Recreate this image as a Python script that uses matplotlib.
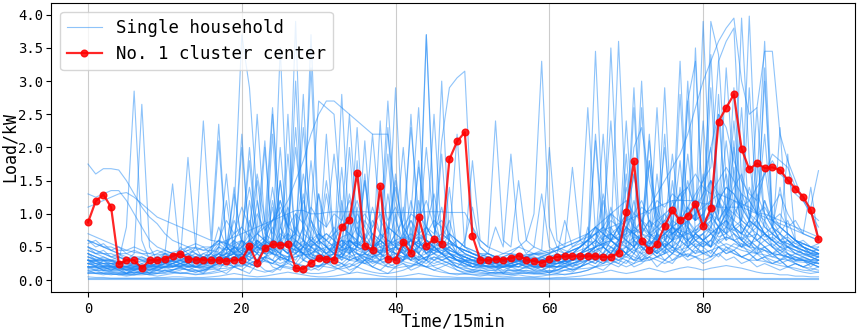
import numpy as np
import matplotlib
matplotlib.use("Agg")
import matplotlib.pyplot as plt

plt.rcParams['font.family'] = ['DejaVu Sans Mono']

# time steps (15 min each)
steps = list(range(96))

# No. 1 cluster center
center = [0.87, 1.19, 1.29, 1.10, 0.24, 0.30, 0.30, 0.18, 0.30, 0.30, 0.32, 0.37, 0.40, 0.32, 0.31, 0.31,
          0.30, 0.30, 0.29, 0.30, 0.31, 0.51, 0.26, 0.48, 0.54, 0.53, 0.54, 0.18, 0.17, 0.26, 0.33, 0.32,
          0.31, 0.80, 0.91, 1.62, 0.52, 0.45, 1.42, 0.32, 0.31, 0.58, 0.41, 0.95, 0.52, 0.62, 0.55, 1.82,
          2.09, 2.23, 0.67, 0.31, 0.30, 0.32, 0.31, 0.33, 0.37, 0.31, 0.29, 0.26, 0.32, 0.35, 0.36, 0.36,
          0.36, 0.36, 0.36, 0.35, 0.35, 0.41, 1.03, 1.79, 0.59, 0.46, 0.54, 0.82, 1.05, 0.90, 0.97, 1.15,
          0.81, 1.08, 2.39, 2.60, 2.80, 1.98, 1.67, 1.76, 1.69, 1.70, 1.66, 1.51, 1.38, 1.26, 1.05, 0.62]

# single households (estimated from the traces)
h01 = [1.75, 1.6, 1.68, 1.68, 1.66, 1.5, 1.3, 1.1, 0.95, 0.85, 0.7, 0.6, 0.55, 0.5, 0.48, 0.45,
       0.45, 0.42, 0.4, 0.4, 0.38, 0.4, 0.45, 0.5, 0.6, 0.55, 0.5, 0.45, 0.4, 0.38, 0.35, 0.35,
       0.4, 0.5, 0.9, 1.2, 0.8, 0.6, 0.5, 0.45, 0.4, 0.42, 0.5, 0.6, 0.7, 0.65, 0.6, 0.55,
       0.5, 0.45, 0.4, 0.35, 0.3, 0.3, 0.28, 0.28, 0.3, 0.3, 0.28, 0.27, 0.26, 0.25, 0.25, 0.26,
       0.28, 0.3, 0.32, 0.35, 0.4, 0.6, 0.8, 0.7, 0.6, 0.55, 0.6, 0.7, 0.8, 0.75, 0.7, 0.65,
       0.7, 0.9, 1.2, 1.4, 1.3, 1.1, 0.9, 0.8, 0.7, 0.6, 0.55, 0.5, 0.5, 0.45, 0.42, 0.4]
h02 = [0.25, 0.22, 0.2, 0.2, 0.18, 0.18, 0.17, 0.16, 0.16, 0.15, 0.15, 0.16, 0.17, 0.16, 0.15, 0.15,
       0.16, 0.17, 0.18, 0.2, 0.22, 0.25, 0.3, 0.28, 0.25, 0.22, 0.2, 0.18, 0.18, 0.2, 0.22, 0.2,
       0.18, 0.17, 0.2, 0.25, 0.3, 0.28, 0.24, 0.2, 0.18, 0.2, 0.22, 0.25, 0.3, 0.35, 0.3, 0.25,
       0.2, 0.18, 0.16, 0.15, 0.15, 0.14, 0.14, 0.15, 0.15, 0.14, 0.14, 0.13, 0.14, 0.15, 0.15, 0.16,
       0.17, 0.18, 0.2, 0.22, 0.25, 0.3, 0.35, 0.3, 0.28, 0.3, 0.35, 0.4, 0.45, 0.4, 0.38, 0.35,
       0.4, 0.45, 0.5, 0.55, 0.5, 0.45, 0.42, 0.4, 0.38, 0.35, 0.32, 0.3, 0.28, 0.27, 0.26, 0.25]
h03 = [0.3, 0.28, 0.25, 0.22, 0.2, 0.2, 0.18, 0.2, 0.22, 0.2, 0.18, 0.2, 0.25, 0.22, 0.2, 0.22,
       0.3, 0.5, 1.2, 0.4, 0.3, 0.6, 2.5, 0.8, 0.4, 1.5, 0.5, 3.9, 0.6, 0.3, 0.4, 2.2,
       0.5, 0.3, 0.4, 1.1, 0.4, 0.3, 2.4, 0.5, 0.3, 0.3, 0.8, 0.4, 0.3, 0.5, 1.9, 0.4,
       0.3, 0.25, 0.2, 0.2, 0.22, 0.2, 0.2, 0.2, 0.25, 0.22, 0.2, 0.2, 0.22, 0.2, 0.2, 0.25,
       0.3, 0.8, 0.4, 0.3, 0.3, 0.5, 1.6, 0.5, 0.3, 0.4, 0.6, 0.4, 0.8, 1.8, 0.5, 0.4,
       0.6, 0.5, 1.2, 0.8, 2.1, 0.6, 0.5, 0.4, 0.9, 0.5, 0.4, 0.35, 0.3, 0.3, 0.28, 0.25]
h04 = [0.5, 0.45, 0.4, 0.35, 0.3, 0.8, 2.85, 0.6, 0.3, 0.25, 0.2, 0.2, 0.22, 0.25, 0.3, 0.28,
       0.25, 0.3, 0.4, 1.0, 3.7, 2.9, 1.2, 0.5, 0.4, 0.3, 0.35, 0.5, 0.4, 0.3, 0.3, 0.35,
       0.4, 1.2, 0.5, 0.3, 0.3, 0.4, 0.3, 0.25, 0.3, 0.5, 0.4, 0.3, 3.7, 1.0, 0.5, 0.4,
       0.3, 0.3, 0.25, 0.22, 0.2, 0.2, 0.2, 0.22, 0.25, 0.3, 0.28, 0.25, 0.22, 0.2, 0.2, 0.22,
       0.25, 0.3, 0.35, 0.4, 0.6, 0.5, 0.4, 0.9, 0.5, 0.4, 0.5, 0.7, 0.6, 2.8, 0.8, 0.5,
       0.4, 3.9, 3.4, 1.5, 0.8, 0.6, 0.5, 0.7, 0.6, 0.5, 0.45, 0.4, 0.35, 0.32, 0.3, 0.3]
h05 = [0.35, 0.3, 0.3, 0.28, 0.25, 0.3, 0.4, 2.65, 0.5, 0.3, 0.25, 0.25, 0.3, 0.35, 0.3, 0.25,
       0.3, 0.35, 0.4, 0.5, 0.6, 0.4, 0.8, 2.1, 0.5, 0.6, 1.0, 0.5, 0.6, 3.7, 0.8, 0.5,
       0.4, 0.35, 0.6, 0.5, 1.5, 0.6, 0.4, 0.35, 0.3, 0.5, 2.5, 0.6, 0.4, 0.3, 0.35, 0.4,
       0.3, 0.28, 0.25, 0.22, 0.22, 0.25, 0.28, 0.3, 0.3, 0.28, 0.25, 0.22, 0.2, 0.2, 0.22, 0.25,
       0.3, 0.35, 0.4, 0.5, 3.5, 1.0, 0.5, 0.4, 0.6, 0.5, 0.4, 0.5, 0.6, 0.5, 0.8, 0.6,
       0.5, 0.6, 0.8, 1.0, 0.9, 3.95, 1.8, 0.9, 0.7, 0.6, 0.5, 0.5, 0.45, 0.4, 0.38, 0.35]
h06 = [1.3, 1.25, 1.3, 1.35, 1.35, 1.2, 1.0, 0.8, 0.6, 0.5, 0.45, 0.4, 0.38, 0.35, 0.5, 2.4,
       0.6, 2.35, 0.5, 0.4, 0.35, 0.4, 0.5, 0.6, 2.5, 0.8, 0.5, 0.4, 0.6, 0.5, 0.7, 0.5,
       0.4, 0.35, 0.5, 2.3, 0.5, 0.4, 0.35, 0.4, 0.5, 0.45, 0.4, 0.5, 0.6, 2.5, 0.6, 0.5,
       0.4, 0.35, 0.3, 0.3, 0.28, 0.25, 0.25, 0.25, 0.28, 0.3, 0.3, 0.28, 0.25, 0.25, 0.28, 0.3,
       0.35, 0.4, 0.5, 2.2, 0.6, 0.5, 0.4, 0.5, 0.6, 1.8, 0.6, 0.5, 0.4, 0.6, 0.8, 0.7,
       0.6, 0.7, 2.8, 0.9, 0.7, 0.6, 0.8, 1.0, 2.2, 0.8, 0.6, 0.5, 0.45, 0.4, 0.38, 0.35]
h07 = [0.2, 0.18, 0.18, 0.17, 0.16, 0.16, 0.17, 0.18, 0.2, 0.25, 0.4, 1.45, 0.3, 1.85, 0.5, 0.3,
       0.25, 0.3, 0.5, 0.4, 0.35, 1.2, 0.5, 0.4, 2.2, 0.5, 0.4, 0.3, 0.5, 1.0, 2.7, 2.6,
       2.5, 1.0, 0.5, 0.4, 0.35, 0.3, 0.4, 0.5, 0.6, 0.5, 1.0, 2.6, 0.5, 0.4, 0.35, 0.3,
       0.3, 0.28, 0.25, 0.22, 0.2, 0.2, 0.2, 0.22, 0.25, 0.25, 0.22, 0.2, 0.2, 0.2, 0.22, 0.25,
       0.28, 0.3, 0.35, 0.4, 0.5, 0.45, 0.5, 2.6, 0.6, 0.5, 0.4, 2.2, 0.5, 0.4, 0.6, 0.5,
       0.6, 0.8, 1.0, 3.2, 1.5, 0.8, 0.6, 0.5, 0.45, 0.4, 0.38, 0.35, 0.3, 0.3, 0.28, 0.26]
h08 = [0.02, 0.02, 0.02, 0.02, 0.02, 0.02, 0.02, 0.02, 0.02, 0.02, 0.02, 0.02, 0.02, 0.02, 0.02, 0.02,
       0.02, 0.02, 0.02, 0.02, 0.02, 0.02, 0.02, 0.02, 0.02, 0.02, 0.02, 0.02, 0.02, 0.02, 0.02, 0.02,
       0.02, 0.02, 0.02, 0.02, 0.02, 0.02, 0.02, 0.02, 0.02, 0.02, 0.02, 0.02, 0.02, 0.02, 0.02, 0.02,
       0.02, 0.02, 0.02, 0.02, 0.02, 0.02, 0.02, 0.02, 0.02, 0.02, 0.02, 0.02, 0.02, 0.02, 0.02, 0.02,
       0.02, 0.02, 0.02, 0.02, 0.02, 0.02, 0.02, 0.02, 0.02, 0.02, 0.02, 0.02, 0.02, 0.02, 0.02, 0.02,
       0.02, 0.02, 0.02, 0.02, 0.02, 0.02, 0.02, 0.02, 0.02, 0.02, 0.02, 0.02, 0.02, 0.02, 0.02, 0.02]
h09 = [0.6, 0.55, 0.5, 0.5, 0.45, 0.45, 0.42, 0.4, 0.4, 0.38, 0.4, 0.42, 0.45, 0.5, 0.55, 0.5,
       0.5, 0.55, 0.6, 0.65, 0.7, 0.75, 0.8, 0.85, 0.9, 0.95, 1.0, 1.05, 1.05, 1.0, 1.0, 1.02,
       1.03, 1.03, 1.03, 1.03, 1.03, 1.02, 1.02, 1.02, 1.02, 1.02, 1.02, 1.02, 1.03, 1.03, 1.03, 1.02,
       1.02, 1.02, 0.8, 0.6, 0.5, 0.45, 0.4, 0.4, 0.38, 0.38, 0.4, 0.4, 0.42, 0.45, 0.5, 0.55,
       0.6, 0.65, 0.7, 0.75, 0.8, 0.85, 0.9, 0.95, 1.0, 1.05, 1.1, 1.15, 1.2, 1.2, 1.2, 1.2,
       1.15, 1.15, 1.1, 1.1, 1.1, 1.1, 1.05, 1.0, 1.0, 0.95, 0.9, 0.85, 0.8, 0.75, 0.7, 0.65]
h10 = [0.3, 0.28, 0.25, 0.25, 0.22, 0.2, 0.2, 0.2, 0.22, 0.25, 0.3, 0.28, 0.25, 0.22, 0.2, 0.2,
       0.22, 0.25, 0.3, 0.35, 0.4, 0.5, 0.6, 0.5, 0.45, 0.4, 0.35, 0.4, 0.5, 0.6, 0.7, 0.6,
       0.5, 0.45, 0.4, 0.5, 0.6, 0.8, 1.0, 0.8, 0.7, 0.9, 2.3, 1.0, 0.8, 0.6, 2.1, 2.9,
       3.05, 3.15, 0.8, 0.5, 0.4, 0.35, 0.3, 0.3, 0.28, 0.28, 0.3, 0.3, 0.3, 0.28, 0.28, 0.3,
       0.35, 0.4, 0.5, 0.6, 0.7, 0.8, 0.9, 1.6, 0.9, 0.7, 0.6, 0.7, 0.8, 0.9, 1.1, 1.3,
       1.5, 1.7, 3.3, 3.6, 3.8, 1.5, 1.0, 0.8, 0.7, 0.6, 0.5, 0.45, 0.4, 0.38, 0.35, 0.3]
h11 = [0.4, 0.35, 0.3, 0.3, 0.28, 0.25, 0.25, 0.22, 0.22, 0.2, 0.2, 0.22, 0.25, 0.3, 0.35, 0.3,
       0.28, 0.3, 0.35, 0.4, 2.0, 0.6, 0.5, 0.45, 0.4, 0.5, 1.9, 0.6, 0.5, 0.4, 0.35, 0.3,
       0.35, 0.4, 0.6, 0.5, 0.45, 0.5, 0.6, 2.3, 0.5, 0.4, 0.5, 0.6, 3.7, 0.8, 0.5, 0.4,
       0.35, 0.3, 0.28, 0.25, 0.25, 0.22, 0.22, 0.25, 0.28, 0.3, 0.3, 0.28, 0.25, 0.25, 0.28, 0.3,
       0.32, 0.35, 2.1, 0.5, 0.4, 0.35, 0.4, 0.5, 2.6, 0.6, 0.5, 0.45, 0.5, 0.6, 2.7, 0.7,
       0.6, 0.7, 0.8, 1.0, 1.2, 1.1, 3.98, 1.2, 0.8, 0.7, 0.6, 0.55, 0.5, 0.45, 0.4, 0.38]
h12 = [0.25, 0.22, 0.2, 0.2, 0.18, 0.18, 0.17, 0.17, 0.18, 0.2, 0.22, 0.25, 0.28, 0.3, 0.28, 0.25,
       0.25, 0.28, 0.3, 0.35, 0.4, 0.45, 0.5, 0.55, 0.6, 0.55, 0.5, 0.45, 0.4, 0.5, 0.6, 0.7,
       0.6, 0.5, 0.45, 0.4, 0.38, 0.4, 0.45, 0.5, 0.55, 0.6, 0.7, 0.6, 0.5, 0.45, 0.4, 0.4,
       0.38, 0.35, 0.3, 0.28, 0.25, 0.25, 0.22, 0.22, 0.25, 0.28, 0.3, 0.3, 0.32, 0.35, 0.4, 0.45,
       0.5, 0.6, 0.7, 0.8, 1.0, 0.9, 0.8, 0.7, 0.9, 1.1, 1.3, 1.5, 1.7, 1.9, 2.2, 2.6,
       3.0, 3.3, 3.6, 3.8, 3.95, 3.0, 2.5, 2.6, 3.45, 3.45, 2.2, 1.8, 1.5, 1.2, 1.0, 0.9]
h13 = [0.2, 0.2, 0.18, 0.18, 0.17, 0.16, 0.16, 0.16, 0.17, 0.18, 0.2, 0.2, 0.22, 0.2, 0.2, 0.18,
       0.2, 0.22, 0.25, 0.3, 0.35, 0.3, 0.4, 0.6, 0.5, 1.5, 0.6, 0.5, 0.4, 0.45, 1.3, 0.5,
       0.4, 0.35, 0.3, 0.35, 0.4, 0.5, 0.6, 0.5, 0.4, 0.35, 0.4, 0.5, 0.6, 0.5, 0.4, 0.35,
       0.3, 0.28, 0.25, 0.25, 0.28, 0.3, 0.35, 0.4, 0.5, 0.6, 1.0, 3.3, 0.8, 0.5, 0.4, 0.35,
       0.4, 0.5, 3.45, 0.8, 0.6, 3.6, 1.0, 0.6, 0.5, 0.4, 0.5, 0.6, 0.8, 3.3, 0.8, 0.6,
       0.5, 0.6, 0.8, 0.9, 0.8, 0.7, 0.9, 1.5, 3.6, 1.0, 0.8, 0.7, 0.6, 0.55, 0.5, 0.45]
h14 = [0.12, 0.1, 0.1, 0.09, 0.09, 0.08, 0.08, 0.08, 0.09, 0.1, 0.1, 0.12, 0.1, 0.1, 0.09, 0.09,
       0.1, 0.12, 0.15, 0.2, 0.25, 0.2, 0.15, 0.12, 0.15, 0.2, 0.18, 0.15, 0.12, 0.1, 0.1, 0.12,
       0.15, 0.2, 0.25, 0.2, 0.15, 0.12, 0.1, 0.1, 0.12, 0.15, 0.2, 0.25, 0.2, 0.15, 0.12, 0.1,
       0.1, 0.09, 0.09, 0.08, 0.08, 0.08, 0.08, 0.09, 0.1, 0.1, 0.09, 0.09, 0.08, 0.08, 0.09, 0.1,
       0.12, 0.15, 0.2, 0.25, 0.3, 0.25, 0.2, 0.25, 0.3, 0.35, 0.3, 0.25, 0.3, 0.35, 0.4, 0.35,
       0.3, 0.35, 0.4, 0.45, 0.4, 0.35, 0.3, 0.3, 0.28, 0.25, 0.22, 0.2, 0.18, 0.15, 0.14, 0.12]
h15 = [0.55, 0.6, 0.5, 0.45, 0.4, 0.35, 0.3, 0.32, 0.3, 0.28, 0.3, 0.35, 0.4, 0.35, 0.3, 0.32,
       0.35, 0.4, 0.5, 0.6, 0.8, 1.4, 0.7, 0.6, 0.9, 1.1, 0.8, 0.7, 1.6, 0.9, 0.7, 0.6,
       0.7, 0.8, 1.0, 0.7, 0.6, 0.5, 0.6, 0.8, 1.5, 0.7, 0.6, 0.5, 0.7, 0.9, 0.8, 0.6,
       0.5, 0.45, 0.4, 0.38, 0.35, 0.35, 0.4, 0.45, 0.5, 0.45, 0.4, 0.38, 0.35, 0.35, 0.4, 0.45,
       0.5, 0.6, 0.7, 0.8, 0.7, 0.6, 0.8, 1.0, 1.2, 0.9, 0.8, 0.9, 1.1, 1.3, 1.0, 0.9,
       1.2, 1.5, 1.3, 1.1, 1.4, 1.6, 1.2, 1.0, 0.9, 1.1, 1.3, 1.0, 0.8, 0.7, 1.4, 0.6]
h16 = [0.3, 0.25, 0.22, 0.2, 0.2, 0.2, 0.18, 0.18, 0.2, 0.22, 0.25, 0.22, 0.2, 0.2, 0.22, 0.25,
       0.3, 0.35, 0.4, 0.5, 0.45, 0.4, 0.6, 0.5, 1.2, 0.5, 0.4, 0.6, 2.8, 0.5, 0.4, 0.35,
       0.3, 0.4, 2.0, 0.5, 0.4, 0.35, 0.3, 0.5, 1.0, 0.4, 0.35, 0.3, 0.35, 0.4, 0.5, 0.45,
       0.4, 0.35, 0.3, 0.3, 0.28, 0.3, 0.32, 0.35, 0.3, 0.28, 0.3, 0.35, 0.4, 0.5, 0.45, 0.4,
       0.5, 0.6, 0.8, 0.7, 0.6, 0.8, 1.0, 0.8, 3.0, 0.7, 0.6, 2.9, 0.6, 0.8, 2.7, 3.3,
       0.9, 0.8, 2.5, 1.0, 0.8, 0.9, 2.9, 1.0, 0.8, 0.7, 0.6, 0.55, 0.5, 0.45, 0.4, 0.38]
h17 = [0.35, 0.32, 0.3, 0.28, 0.25, 0.25, 0.22, 0.22, 0.25, 0.28, 0.3, 0.35, 0.4, 0.38, 0.35, 0.3,
       0.3, 0.32, 0.35, 0.4, 0.45, 0.5, 0.55, 0.5, 0.45, 0.5, 0.6, 0.7, 0.6, 0.5, 0.45, 0.4,
       0.45, 0.5, 0.6, 0.55, 0.5, 0.45, 0.5, 0.55, 0.6, 0.65, 0.6, 0.55, 0.5, 0.45, 0.5, 0.55,
       0.5, 0.45, 0.4, 0.35, 0.32, 0.3, 0.3, 0.32, 0.35, 0.38, 0.4, 0.42, 0.45, 0.5, 0.55, 0.6,
       0.65, 0.7, 0.8, 0.9, 1.0, 1.1, 1.2, 1.0, 0.9, 0.8, 0.9, 1.0, 1.1, 1.3, 1.4, 1.6,
       1.4, 1.3, 1.5, 1.7, 1.5, 1.3, 1.2, 1.4, 1.6, 1.8, 1.6, 1.5, 1.3, 1.2, 1.1, 1.65]
h18 = [0.25, 0.25, 0.22, 0.22, 0.2, 0.2, 0.2, 0.2, 0.22, 0.25, 0.28, 0.3, 0.32, 0.3, 0.28, 0.25,
       0.28, 0.3, 0.35, 0.4, 0.5, 0.6, 0.7, 0.8, 0.9, 1.0, 1.2, 1.5, 1.8, 2.2, 2.5, 2.7,
       2.7, 2.6, 2.5, 2.4, 2.3, 2.2, 2.2, 2.2, 1.2, 0.8, 0.6, 0.5, 0.45, 0.5, 0.6, 0.7,
       0.6, 0.5, 0.45, 0.4, 0.35, 0.32, 0.3, 0.3, 0.32, 0.35, 0.38, 0.4, 0.38, 0.35, 0.35, 0.38,
       0.4, 0.45, 0.5, 0.55, 0.6, 0.7, 0.9, 2.0, 2.3, 1.5, 1.0, 0.8, 0.7, 0.8, 1.0, 1.2,
       1.5, 2.0, 2.5, 2.3, 1.8, 1.5, 1.3, 1.2, 1.6, 1.9, 1.8, 1.7, 1.4, 1.2, 1.0, 0.8]
h19 = [1.1, 1.15, 1.2, 1.25, 1.3, 1.32, 1.25, 1.15, 1.05, 0.95, 0.9, 0.85, 0.8, 0.75, 0.7, 0.65,
       0.6, 0.58, 0.55, 0.5, 0.48, 0.45, 0.42, 0.4, 0.4, 0.38, 0.35, 0.35, 0.38, 0.4, 0.45, 0.5,
       0.55, 0.6, 0.58, 0.55, 0.5, 0.48, 0.45, 0.45, 0.5, 0.55, 0.6, 0.65, 0.6, 0.55, 0.5, 0.45,
       0.4, 0.38, 0.35, 0.32, 0.3, 0.28, 0.28, 0.3, 0.32, 0.35, 0.35, 0.32, 0.3, 0.3, 0.32, 0.35,
       0.4, 0.45, 0.5, 0.55, 0.6, 0.65, 0.7, 0.75, 0.7, 0.65, 0.6, 0.65, 0.7, 0.8, 0.9, 1.0,
       1.1, 1.2, 1.3, 1.25, 1.2, 1.15, 1.1, 1.0, 0.95, 0.9, 0.85, 0.8, 0.75, 0.7, 0.65, 0.6]
h20 = [0.3, 0.3, 0.28, 0.25, 0.25, 0.22, 0.22, 0.2, 0.2, 0.22, 0.25, 0.28, 0.3, 0.28, 0.25, 0.25,
       0.28, 0.3, 0.35, 0.4, 0.5, 0.6, 0.5, 0.45, 0.5, 0.7, 0.6, 0.5, 0.8, 0.6, 0.5, 0.45,
       0.5, 0.6, 0.5, 0.45, 0.5, 0.7, 0.6, 0.5, 0.45, 0.5, 0.6, 0.5, 0.45, 0.4, 0.45, 0.5,
       0.6, 0.5, 1.8, 0.6, 0.5, 2.4, 0.6, 0.5, 1.5, 0.6, 0.5, 0.45, 2.0, 0.6, 0.5, 1.7,
       0.6, 0.5, 2.2, 0.7, 0.6, 0.5, 0.8, 0.7, 0.6, 0.5, 0.7, 0.9, 0.8, 0.7, 0.6, 0.8,
       0.9, 1.0, 0.8, 0.7, 2.0, 0.9, 0.8, 0.7, 1.2, 0.9, 0.8, 0.7, 0.6, 0.5, 0.45, 0.4]
h21 = [0.05, 0.04, 0.04, 0.03, 0.03, 0.03, 0.03, 0.03, 0.03, 0.04, 0.04, 0.05, 0.05, 0.04, 0.04, 0.04,
       0.05, 0.06, 0.08, 0.1, 0.08, 0.06, 0.05, 0.06, 0.08, 0.1, 0.12, 0.1, 0.08, 0.06, 0.05, 0.05,
       0.06, 0.08, 0.1, 0.12, 0.1, 0.08, 0.06, 0.05, 0.05, 0.06, 0.08, 0.1, 0.08, 0.06, 0.05, 0.05,
       0.04, 0.04, 0.04, 0.03, 0.03, 0.03, 0.03, 0.04, 0.04, 0.04, 0.04, 0.03, 0.03, 0.04, 0.04, 0.05,
       0.06, 0.08, 0.1, 0.12, 0.15, 0.12, 0.1, 0.12, 0.15, 0.18, 0.15, 0.12, 0.15, 0.18, 0.2, 0.18,
       0.15, 0.18, 0.2, 0.22, 0.2, 0.18, 0.15, 0.12, 0.1, 0.1, 0.08, 0.08, 0.06, 0.06, 0.05, 0.05]
h22 = [0.4, 0.35, 0.32, 0.3, 0.28, 0.25, 0.25, 0.28, 0.3, 0.35, 0.3, 0.28, 0.3, 0.35, 0.4, 0.35,
       0.3, 0.35, 0.5, 0.4, 0.6, 1.8, 0.5, 0.4, 0.5, 2.0, 0.6, 0.5, 0.8, 3.2, 0.6, 0.5,
       0.4, 2.8, 0.6, 0.5, 1.5, 0.5, 0.4, 0.6, 2.9, 0.5, 0.4, 1.8, 0.6, 0.5, 0.4, 0.6,
       2.2, 0.5, 0.4, 0.35, 0.3, 0.3, 0.28, 0.28, 0.3, 0.35, 0.32, 0.3, 0.28, 0.3, 0.35, 0.4,
       0.45, 0.5, 0.6, 0.8, 2.4, 0.7, 0.6, 0.5, 0.7, 2.2, 0.6, 0.5, 0.7, 0.8, 1.9, 0.9,
       3.9, 1.2, 0.9, 0.8, 1.0, 2.6, 0.9, 0.8, 3.0, 0.9, 0.7, 0.6, 0.5, 0.5, 0.45, 0.4]
h23 = [0.15, 0.15, 0.14, 0.13, 0.12, 0.12, 0.12, 0.13, 0.15, 0.18, 0.2, 0.25, 0.3, 0.25, 0.2, 0.18,
       0.2, 0.25, 0.3, 0.35, 0.3, 0.25, 0.3, 0.35, 0.4, 0.35, 0.3, 0.25, 0.22, 0.2, 0.22, 0.25,
       0.3, 0.35, 0.3, 0.28, 0.25, 0.28, 0.3, 0.35, 0.3, 0.28, 0.25, 0.22, 0.2, 0.22, 0.25, 0.28,
       0.25, 0.22, 0.2, 0.18, 0.18, 0.18, 0.2, 0.22, 0.2, 0.18, 0.18, 0.2, 0.22, 0.25, 0.28, 0.3,
       0.35, 0.4, 0.35, 0.3, 0.35, 0.4, 0.5, 0.45, 0.4, 0.45, 0.5, 0.55, 0.5, 0.45, 0.5, 0.6,
       0.55, 0.5, 0.6, 0.65, 0.6, 0.55, 0.5, 0.48, 0.45, 0.4, 0.38, 0.35, 0.32, 0.3, 0.28, 0.25]
h24 = [.3, .2, .3, .2, .2, .1, .2, .2, .1, .2, .3, .2, .2, .3, .2, .2,
       .3, .4, .3, .5, .4, .3, .6, .4, .3, .5, .4, .6, .3, .4, .5, .3,
       .4, .6, .5, .3, .4, .7, .5, .4, .3, .5, .6, .4, .3, .5, .4, .3,
       .2, .3, .2, .2, .3, .2, .1, .2, .2, .3, .2, .2, .1, .2, .3, .2,
       .3, .4, .3, .5, .4, .6, .5, .4, .6, .5, .7, .5, .6, .8, .5, .6,
       .7, .5, .8, .6, .7, .5, .6, .4, .5, .4, .3, .4, .3, .3, .2, .3]
h25 = [.15, .1, .12, .1, .08, .1, .12, .1, .08, .1, .15, .12, .1, .12, .15, .1,
       .2, .15, .3, .2, .15, .25, .2, .35, .2, .15, .3, .25, .2, .15, .2, .3,
       .2, .25, .15, .2, .3, .2, .15, .25, .2, .3, .4, .25, .2, .15, .2, .25,
       .15, .1, .12, .1, .1, .12, .1, .08, .1, .12, .1, .1, .12, .1, .15, .12,
       .2, .25, .2, .3, .25, .35, .3, .25, .4, .3, .35, .45, .3, .4, .35, .5,
       .4, .45, .35, .5, .4, .35, .3, .4, .3, .25, .3, .2, .25, .2, .15, .2]
h26 = [.5, .4, .45, .35, .4, .3, .35, .3, .25, .3, .35, .3, .4, .35, .3, .4,
       .35, .5, .4, 1.4, .5, .4, .6, .5, .8, .5, .4, .6, .5, .9, .6, .5,
       .7, .5, .6, .8, .5, .4, .6, .5, .7, .6, .5, 1.2, .6, .5, .4, .5,
       .4, .35, .3, .35, .3, .25, .3, .35, .3, .25, .3, .3, .35, .3, .4, .35,
       .4, .5, .6, .5, .7, .6, .8, .6, .7, .9, .7, .6, .8, .7, .9, 1.0,
       .8, .9, .7, 1.1, .8, .7, .9, .8, .7, .6, .7, .5, .6, .5, .4, .5]
h27 = [.25, .3, .2, .25, .2, .2, .15, .2, .25, .2, .3, .25, .2, .25, .3, .35,
       .3, .45, 1.6, .4, .3, .5, .4, 2.0, .5, .4, .3, .6, 1.3, .4, .3, .5,
       .4, .3, .6, .5, 2.1, .5, .4, .3, .5, 1.1, .4, .3, .5, .4, .6, .4,
       .3, .25, .2, .25, .2, .2, .25, .2, .15, .2, .25, .2, .2, .25, .3, .25,
       .3, .35, .4, .3, .5, .4, 1.9, .5, .4, .6, .5, .4, 1.5, .6, .5, .7,
       .6, .5, .8, .6, 1.7, .7, .6, .5, .6, .5, .4, .5, .4, .35, .3, .35]
h28 = [.2, .2, .15, .2, .15, .15, .1, .15, .2, .15, .2, .25, .2, .15, .2, .25,
       .2, .3, .25, .2, .4, .3, .25, .35, .5, .3, 2.5, .4, .3, .5, .4, .3,
       .6, .4, .3, 1.8, .5, .4, .3, .35, .4, .3, .5, .4, .3, .6, .5, .4,
       .3, .2, .25, .2, .2, .15, .2, .2, .25, .2, .2, .15, .2, .2, .25, .2,
       .25, .3, .4, .3, .35, .5, .4, .3, .45, .6, .4, .5, .4, .6, .5, .7,
       .6, .5, .7, .9, .6, .5, .7, .6, .5, .4, .5, .4, .3, .35, .3, .3]
h29 = [.45, .4, .35, .3, .35, .3, .25, .3, .25, .2, .25, .3, .25, .2, .25, .3,
       .25, .3, .35, .3, .4, .35, .5, .45, .4, .6, .5, .45, .55, .5, .6, .5,
       .45, .55, .6, .5, .45, .5, .55, .6, .5, .45, .6, .55, .5, .45, .5, .4,
       .35, .3, .3, .25, .3, .25, .2, .25, .3, .25, .2, .25, .3, .25, .3, .35,
       .4, .35, .45, .5, .4, .55, .6, .5, .65, .55, .6, .7, .6, .65, .75, .6,
       .7, .8, .65, .7, .6, .65, .55, .6, .5, .55, .45, .5, .4, .45, .35, .4]
h30 = [.1, .1, .08, .1, .08, .06, .08, .1, .08, .06, .08, .1, .12, .1, .08, .1,
       .12, .15, .1, .2, .15, .1, .25, .15, .12, .2, .3, .15, .1, .2, .15, .25,
       .2, .15, .1, .2, .3, .2, .15, .1, .2, .25, .15, .2, .3, .2, .15, .1,
       .08, .1, .08, .06, .08, .06, .05, .06, .08, .06, .05, .06, .08, .1, .08, .1,
       .12, .15, .2, .15, .25, .2, .3, .2, .25, .35, .2, .3, .25, .4, .3, .35,
       .25, .3, .4, .3, .35, .25, .3, .2, .25, .2, .15, .2, .15, .12, .1, .12]
h31 = [.35, .3, .3, .25, .25, .2, .25, .2, .25, .3, .25, .3, .35, .3, .25, .3,
       .4, .3, .6, .4, 2.2, .5, .4, .3, .6, .5, .4, 3.0, .6, .4, .5, .4,
       .3, .5, .4, .6, .5, .4, .7, .5, .4, .3, .5, .6, .4, .5, 3.0, .6,
       .4, .3, .3, .25, .25, .2, .2, .25, .3, .25, .2, .2, .25, .3, .25, .3,
       .35, .4, .5, .4, .6, .5, .4, .7, .5, .6, 2.6, .6, .5, .7, .6, 3.5,
       .8, .7, .6, .8, .7, .6, .5, .7, 3.2, .8, .6, .5, .45, .4, .35, .3]
h32 = [.6, .5, .55, .45, .5, .4, .45, .4, .35, .4, .45, .4, .35, .4, .45, .5,
       .4, .55, .45, .6, .5, .7, .55, .65, .5, .6, .7, .6, .5, .65, .55, .6,
       .5, .65, .7, .55, .6, .5, .7, .6, .55, .5, .6, .7, .6, .5, .55, .45,
       .4, .45, .4, .35, .4, .35, .3, .35, .4, .35, .3, .35, .4, .45, .4, .5,
       .55, .6, .5, .65, .7, .6, .75, .7, .8, .65, .75, .85, .7, .8, .9, .75,
       .85, .95, .8, .9, .75, .85, .7, .8, .65, .7, .6, .65, .55, .6, .5, .55]
h33 = [.2, .15, .2, .15, .15, .1, .15, .15, .1, .15, .2, .15, .2, .25, .2, .15,
       .2, .25, .3, .25, .2, .3, .4, .3, .25, .35, .3, .25, .4, .3, .35, .25,
       .3, .4, .35, .3, .25, .35, .4, .3, .35, .45, .3, .25, .35, .3, .4, .3,
       .25, .2, .15, .2, .15, .15, .2, .15, .15, .2, .15, .15, .2, .15, .2, .25,
       .2, .3, .25, .35, .3, .25, .4, .3, .35, .45, .35, .3, .4, .5, .35, .45,
       .4, .35, .5, .4, .45, .35, .4, .3, .35, .3, .25, .3, .25, .2, .25, .2]
h34 = [.3, .25, .25, .2, .2, .2, .25, .2, .2, .25, .3, .3, .35, .4, .35, .3,
       .4, 2.1, .5, .4, .3, .4, 1.2, .5, .4, 3.5, .8, .5, .4, .3, .6, .4,
       .5, 1.7, .4, .3, .5, .4, .6, 1.9, .5, .4, .3, .5, .4, .6, .5, 1.4,
       .4, .3, .25, .3, .25, .2, .25, .3, .25, .2, .25, .3, .25, .3, .35, .3,
       .4, .5, .4, .6, .5, .4, .7, 2.9, .6, .5, .4, .6, .5, 1.4, .6, .7,
       .8, 2.9, .9, .7, .8, .6, .7, .9, .7, .6, 2.3, .6, .5, .4, .35, .3]
h35 = [.4, .35, .3, .3, .25, .25, .2, .25, .3, .25, .3, .35, .3, .25, .3, .35,
       .3, .4, .35, .5, .4, .6, .45, .55, .5, .4, .6, .5, .45, .55, .5, .4,
       .55, .45, .5, .6, .4, .5, .55, .45, .5, .6, .5, .4, .55, .5, .45, .4,
       .35, .3, .35, .3, .25, .3, .25, .2, .25, .3, .25, .3, .25, .3, .35, .3,
       .35, .4, .45, .5, .4, .55, .5, .6, .45, .55, .65, .5, .6, .7, .55, .65,
       .6, .7, .55, .65, .6, .5, .55, .45, .5, .4, .45, .35, .4, .35, .3, .35]
h36 = [.7, .65, .6, .55, .5, .45, .5, .45, .4, .45, .4, .35, .4, .35, .3, .35,
       .3, .35, .4, .35, .45, .4, .5, .45, .55, .5, .45, .4, .5, .45, .4, .35,
       .4, .45, .5, .45, .4, .35, .4, .45, .4, .35, .3, .35, .4, .45, .4, .35,
       .3, .35, .3, .25, .3, .25, .3, .25, .2, .25, .3, .25, .2, .25, .3, .35,
       .4, .45, .5, .55, .5, .6, .55, .65, .6, .7, .65, .75, .7, .65, .7, .75,
       .8, .75, .7, .8, .75, .7, .65, .7, .6, .65, .55, .6, .5, .55, .5, .45]
h37 = [.12, .15, .1, .12, .1, .1, .08, .1, .12, .1, .12, .15, .2, .15, .12, .15,
       .2, .25, .2, .3, .6, .25, .2, .35, .3, .2, .25, 1.0, .3, .25, .2, .3,
       .25, .2, .3, .35, .25, .2, .3, .8, .3, .25, .2, .3, .25, .35, .3, .25,
       .2, .15, .12, .15, .12, .1, .12, .15, .12, .1, .12, .15, .12, .15, .2, .15,
       .2, .25, .3, .25, .35, .3, .4, .35, .3, .45, .35, .4, .5, .4, .45, .55,
       .5, .4, .6, .5, .45, .55, .4, .5, .35, .4, .3, .35, .25, .2, .25, .2]
h38 = [.25, .2, .2, .15, .2, .15, .15, .2, .15, .2, .25, .2, .25, .3, .25, .2,
       .25, .3, .35, .3, .25, .2, .3, .35, .3, .25, .3, .35, .4, .35, .3, .35,
       .3, .25, .35, .4, .35, .3, .25, .3, .35, .3, .4, .35, .3, .25, .3, .35,
       .3, .25, .2, .25, .2, .2, .15, .2, .25, .2, .15, .2, .25, .2, .25, .3,
       .3, .35, .4, .35, .45, .4, .35, .45, .5, .4, .45, .55, .45, .5, .6, .5,
       .55, .6, .5, .45, .55, .5, .45, .4, .45, .35, .4, .3, .35, .3, .25, .3]
h39 = [.2, .2, .15, .15, .15, .1, .15, .1, .15, .15, .2, .2, .25, .2, .2, .25,
       .3, .25, .35, .3, .4, .35, .3, .5, .4, .35, .3, .4, .5, .35, .3, .4,
       .3, .35, .5, .4, .3, .35, .45, .4, .3, .35, .4, .3, .35, .4, .3, .35,
       .3, .25, .2, .25, .2, .2, .25, .2, .2, .25, .2, .2, .25, .3, .25, .3,
       .35, .4, .5, 1.2, .6, .5, 2.4, .7, .6, .5, 1.6, .6, .7, .8, 3.0, .9,
       1.0, 3.4, 1.2, .9, 2.9, 1.0, .8, 2.6, .9, .7, .8, 1.9, .6, .5, .45, .4]
h40 = [.5, .45, .4, .4, .35, .3, .35, .3, .3, .35, .3, .35, .4, .45, .4, .35,
       .4, .5, .45, .55, .6, .5, .7, .6, .5, .8, .6, .7, 1.2, .8, .6, .7,
       .6, .8, .7, .6, .9, .7, .6, .8, .7, .6, .9, .7, .8, .6, .7, .6,
       .5, .45, .4, .35, .4, .35, .3, .35, .3, .35, .4, .35, .3, .35, .4, .45,
       .5, .6, .55, .7, .6, .8, .65, .75, .9, .7, .8, 1.0, .8, .9, 1.1, .9,
       1.0, 1.2, .9, 1.1, 1.0, .9, .8, .9, .7, .8, .6, .7, .6, .55, .5, .5]
h41 = [.18, .15, .15, .12, .12, .1, .12, .1, .12, .15, .12, .15, .18, .15, .12, .15,
       .18, .2, .25, .2, .3, .25, .2, .3, .25, .35, .25, .2, .3, .25, .2, .25,
       .3, .25, .2, .3, .35, .25, .3, .2, .25, .3, .35, .25, .2, .3, .25, .2,
       .15, .12, .15, .12, .1, .12, .1, .12, .15, .12, .1, .12, .15, .12, .15, .18,
       .2, .25, .3, .25, .35, .3, .25, .4, .3, .35, .45, .3, .4, .35, .5, .4,
       .45, .35, .5, .4, .45, .35, .4, .3, .35, .25, .3, .2, .25, .2, .18, .15]
h42 = [.3, .3, .25, .25, .2, .2, .2, .25, .2, .2, .25, .3, .25, .3, .35, .3,
       .35, .4, .5, .4, .6, .5, .4, .6, .5, .4, .7, .5, .4, .6, .5, .4,
       .5, .6, .4, .5, .7, .5, .4, .6, .5, .7, .5, .4, .6, .5, .4, .5,
       .4, .6, 1.1, .5, .4, .8, .5, 1.9, .6, .4, .5, 1.3, .5, .4, .9, .5,
       .6, 2.6, .7, .5, .6, .8, .6, .5, .7, .9, .6, .7, .8, .6, .9, .7,
       .8, 1.0, .8, .7, .9, .8, .7, .6, .7, .6, .5, .6, .5, .45, .4, .4]
h43 = [.45, .4, .4, .35, .35, .3, .3, .35, .3, .3, .35, .4, .35, .3, .35, .4,
       .45, .6, .5, .9, .6, .5, 1.5, .7, .6, .5, .8, 2.3, .7, .6, .5, 1.3,
       .6, .5, .7, .6, 1.6, .5, .6, .5, .7, 2.0, .6, .5, .8, .6, .5, .7,
       .5, .4, .35, .3, .35, .3, .3, .35, .3, .3, .35, .3, .35, .4, .35, .4,
       .5, .6, .7, .6, 1.1, .7, .6, .8, .7, 2.1, .8, .7, .9, .8, 1.0, .9,
       2.4, 1.0, .9, 1.1, .9, 1.3, 1.0, .9, 1.2, .8, .7, .6, .55, .5, .45, .45]
h44 = [.3, .25, .2, .2, .2, .15, .2, .2, .25, .3, .4, .3, .5, .4, .3, .35,
       .4, .8, .5, 1.3, .6, 2.0, .7, .9, 2.6, .8, 1.1, .7, 2.3, .9, .6, 1.5,
       .7, .9, 2.5, .8, .6, 1.1, .7, 2.7, .9, .6, 1.2, .7, 2.0, .8, .6, .9,
       .5, .4, .35, .3, .3, .25, .3, .35, .3, .25, .3, .35, .3, .4, .35, .4,
       .5, .6, .8, .6, 1.0, .7, 1.4, .8, .7, 1.8, .9, .8, 1.2, .9, 1.5, 1.0,
       1.3, 2.0, 1.1, 1.6, 1.0, 1.2, .9, 1.8, 1.0, .8, .7, .9, .6, .5, .45, .4]
h45 = [.4, .3, .35, .3, .25, .3, .25, .2, .25, .3, .25, .3, .4, .5, .4, .3,
       .5, .6, .9, .7, 1.1, .8, 1.6, .9, .7, 1.2, .8, 2.0, .9, .7, 1.3, .8,
       1.9, .8, .7, 1.0, .8, 2.2, .9, .7, 1.4, .8, .6, 1.7, .8, .7, 1.1, .6,
       .5, .4, .35, .3, .35, .3, .3, .25, .3, .35, .3, .3, .35, .3, .4, .45,
       .5, .7, .6, 1.3, .7, .6, .9, 1.6, .8, .7, 1.1, .8, 1.9, .9, .8, 1.2,
       .9, 1.5, 1.0, 2.1, 1.1, .9, 1.4, 1.0, 1.7, .9, .8, .7, .6, .55, .5, .45]
h46 = [.2, .2, .15, .15, .2, .15, .15, .2, .15, .2, .2, .25, .3, .25, .2, .25,
       .3, .4, .35, .5, .4, .9, .5, .6, 1.4, .6, .5, .8, .6, 1.8, .7, .6,
       .8, .6, 1.3, .7, .6, .9, .7, .6, 1.6, .7, .9, .6, .8, 1.3, .7, .6,
       .4, .35, .3, .25, .3, .25, .2, .25, .3, .25, .2, .25, .3, .25, .3, .35,
       .4, .5, .6, .5, .8, .6, .7, 1.2, .7, .6, .9, 2.0, .8, .7, 1.1, .9,
       1.6, .9, 1.2, 1.0, 2.4, 1.1, .9, 1.3, 1.0, .8, 1.4, .7, .6, .5, .4, .35]
h47 = [.6, .55, .5, .45, .4, .4, .35, .35, .3, .35, .4, .35, .4, .45, .5, .45,
       .5, .6, .55, .7, .8, .65, 1.0, .75, .9, 1.2, .8, 1.0, .85, 1.1, .9, .8,
       1.0, .9, 1.2, .85, 1.0, .8, 1.3, .9, 1.1, .8, 1.0, .9, 1.2, .8, .9, .7,
       .6, .5, .45, .4, .4, .35, .35, .4, .35, .35, .4, .45, .4, .45, .5, .55,
       .6, .7, .8, .7, .9, .8, 1.0, .9, 1.1, 1.0, 1.2, 1.1, 1.3, 1.2, 1.4, 1.1,
       1.3, 1.5, 1.2, 1.4, 1.3, 1.1, 1.2, 1.0, 1.1, .9, 1.0, .8, .9, .7, .65, .6]
h48 = [.1, .12, .1, .08, .1, .08, .1, .12, .1, .12, .15, .12, .15, .2, .15, .12,
       .2, .3, .25, .6, .3, .4, .3, .5, 1.1, .4, .3, .5, .4, .7, .4, .3,
       .5, .4, .9, .4, .3, .5, .4, 1.3, .5, .4, .3, .6, .4, .5, .4, .3,
       .2, .15, .12, .15, .12, .1, .12, .1, .12, .15, .12, .1, .12, .15, .2, .15,
       .2, .3, .25, .4, .3, .5, .4, .6, .5, .4, .7, .5, .6, .9, .6, .7,
       1.0, .7, .8, 1.3, .8, .7, .9, .6, .7, .5, .6, .4, .35, .3, .25, .2]
h49 = [.03, .03, .03, .03, .03, .03, .03, .03, .03, .03, .03, .03, .03, .03, .03, .03,
       .03, .03, .03, .03, .03, .03, .03, .03, .03, .03, .03, .03, .03, .03, .03, .03,
       .03, .03, .03, .03, .03, .03, .03, .03, .03, .03, .03, .03, .03, .03, .03, .03,
       .03, .03, .03, .03, .03, .03, .03, .03, .03, .03, .03, .03, .03, .03, .03, .03,
       .03, .03, .03, .03, .03, .03, .03, .03, .03, .03, .03, .03, .03, .03, .03, .03,
       .03, .03, .03, .03, .03, .03, .03, .03, .03, .03, .03, .03, .03, .03, .03, .03]

households = [h01, h02, h03, h04, h05, h06, h07, h08, h09, h10, h11, h12, h13, h14, h15,
              h16, h17, h18, h19, h20, h21, h22, h23, h24, h25, h26, h27, h28, h29, h30,
              h31, h32, h33, h34, h35, h36, h37, h38, h39, h40, h41, h42, h43, h44, h45,
              h46, h47, h48, h49]

fig = plt.figure(figsize=(8.58, 3.31), dpi=100)
ax = fig.add_axes([0.06, 0.118, 0.9365, 0.873])

for i, h in enumerate(households):
    ax.plot(steps, h, color="#1E88F5", alpha=0.5, linewidth=0.8,
            label="Single household" if i == 0 else None)

ax.plot(steps, center, color="red", alpha=0.85, linewidth=1.6, marker="o",
        markersize=4.8, label="No. 1 cluster center")

ax.grid(axis="x", color="#cccccc", linewidth=0.8)
ax.set_axisbelow(True)
ax.set_xticks([0, 20, 40, 60, 80])
ax.set_yticks(np.arange(0, 4.01, 0.5))
ax.tick_params(labelsize=10)
ax.tick_params(axis="y", pad=2.5)
ax.set_xlabel("Time/15min", fontsize=12.5, labelpad=-2)
ax.set_ylabel("Load/kW", fontsize=12)
ax.yaxis.set_label_coords(-0.041, 0.5)
ax.legend(loc="upper left", fontsize=12.5)

fig.savefig("out.png", dpi=100)
